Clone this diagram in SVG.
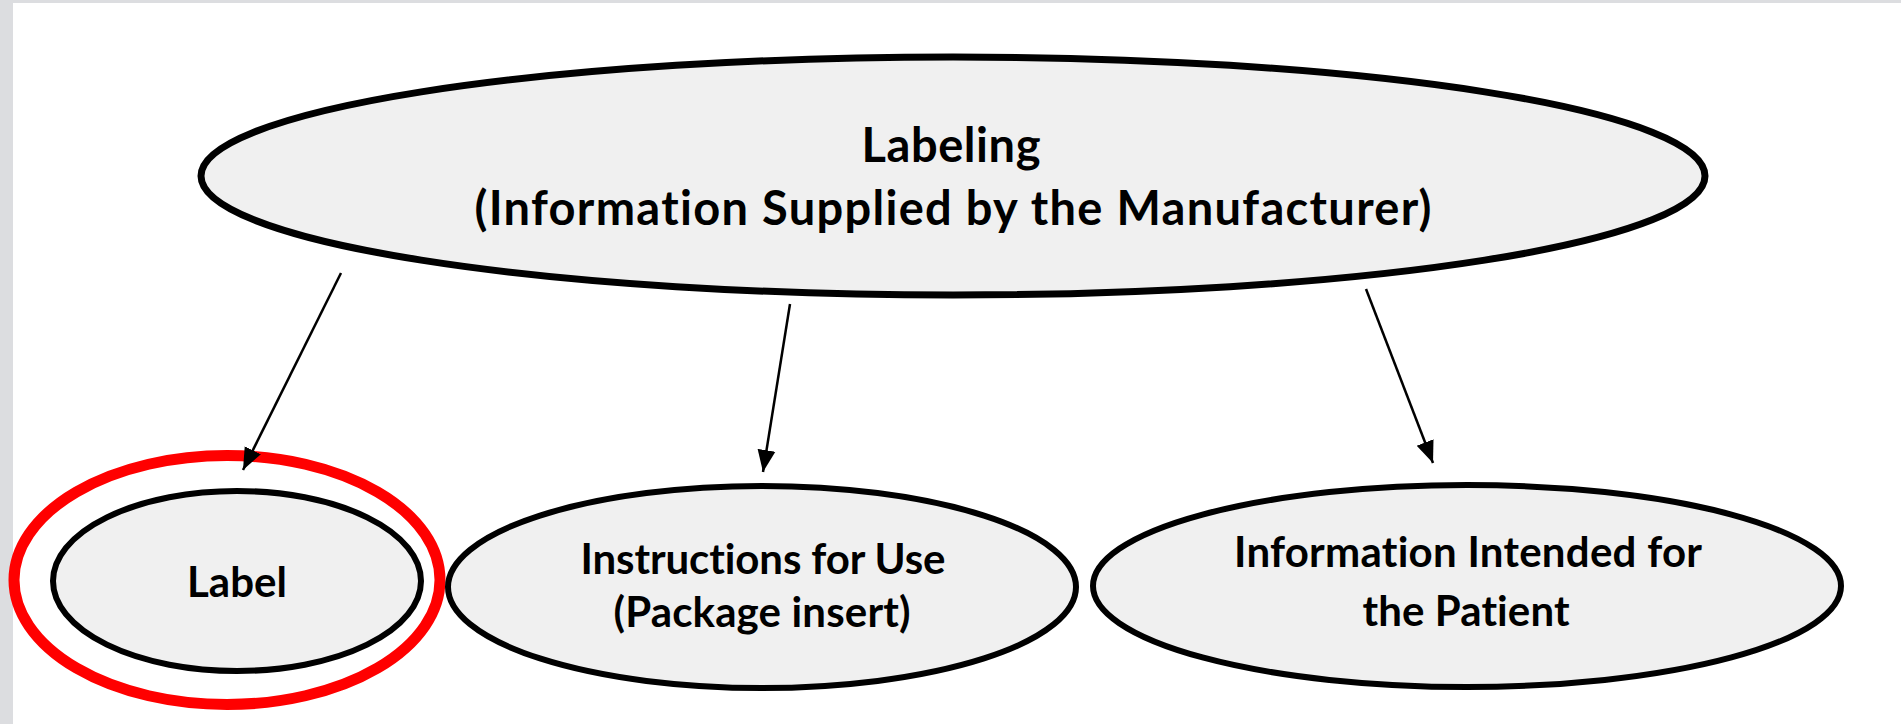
<svg xmlns="http://www.w3.org/2000/svg" width="1901" height="724" viewBox="0 0 1901 724">
<style>
.node { fill: #f0f0f0; stroke: #000; }
.t { font-family: Lato, "Liberation Sans", sans-serif; font-weight: bold; fill: #000; text-anchor: middle; font-variant-ligatures: none; font-feature-settings: "liga" 0, "clig" 0; }
.conn { stroke: #000; stroke-width: 2.5; fill: none; marker-end: url(#arrow); }
</style>
<defs>
<marker id="arrow" markerUnits="userSpaceOnUse" markerWidth="24" markerHeight="20" viewBox="0 0 24 20" refX="22" refY="10" orient="auto">
<path d="M0,1 L22,10 L0,19 Z" fill="#000"/>
</marker>
</defs>
<rect x="0" y="0" width="1901" height="724" fill="#ffffff"/>
<rect x="0" y="0" width="1901" height="3" fill="#dcdde0"/>
<rect x="0" y="0" width="13" height="724" fill="#dcdde0"/>
<g id="labeling">
<ellipse class="node" cx="953" cy="176" rx="752" ry="119" stroke-width="7"/>
<text class="t" x="951" y="162" font-size="47" textLength="179">Labeling</text>
<text class="t" x="953" y="225" font-size="47" textLength="957">(Information Supplied by the Manufacturer)</text>
</g>
<g id="label">
<ellipse class="node" cx="237" cy="581" rx="184" ry="90" stroke-width="6"/>
<text class="t" x="237" y="597" font-size="42" textLength="100">Label</text>
</g>
<g id="highlight">
<ellipse cx="227" cy="580" rx="213" ry="124.5" fill="none" stroke="#ff0000" stroke-width="11"/>
</g>
<g id="ifu">
<ellipse class="node" cx="762" cy="587" rx="314" ry="101" stroke-width="6"/>
<text class="t" x="763" y="574" font-size="42" textLength="365">Instructions for Use</text>
<text class="t" x="762" y="627" font-size="42" textLength="297">(Package insert)</text>
</g>
<g id="patient">
<ellipse class="node" cx="1467" cy="586" rx="374" ry="101" stroke-width="6"/>
<text class="t" x="1468" y="567" font-size="42" textLength="468">Information Intended for</text>
<text class="t" x="1466" y="626" font-size="42" textLength="207">the Patient</text>
</g>
<g id="connectors">
<line class="conn" x1="341" y1="273" x2="243" y2="470"/>
<line class="conn" x1="790" y1="304" x2="763" y2="472"/>
<line class="conn" x1="1366" y1="289" x2="1433" y2="463"/>
</g>
</svg>
